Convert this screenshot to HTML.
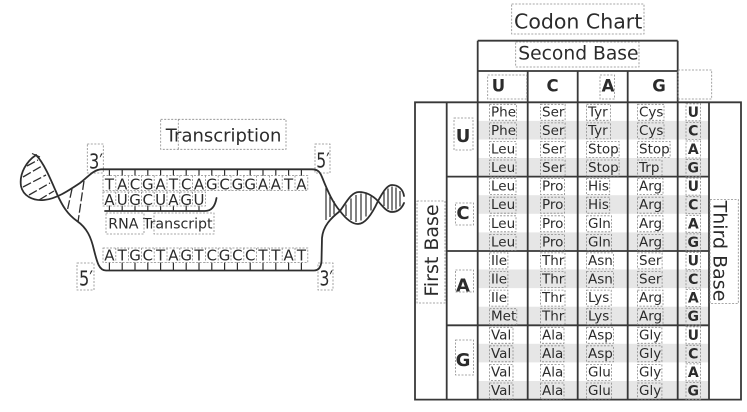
<!DOCTYPE html>
<html><head><meta charset="utf-8">
<style>
html,body{margin:0;padding:0;background:#fff;}
body{width:747px;height:412px;overflow:hidden;position:relative;}
svg{position:absolute;left:0;top:0;}
text{font-family:"DejaVu Sans","Liberation Sans",sans-serif;fill:#2b2b2b;}
.b{stroke:#8a8a8a;stroke-width:0.8;stroke-dasharray:2 1.5;fill:none;}
.l{stroke:#383838;stroke-width:1.8;fill:none;}
.s{stroke:#2e2e2e;stroke-width:1.8;fill:none;stroke-linecap:round;}
.r{stroke:#2e2e2e;stroke-width:1.3;fill:none;stroke-dasharray:9 2.5;}
.rr{stroke:#2e2e2e;stroke-width:1.2;fill:none;}
.t{stroke:#2e2e2e;stroke-width:1.2;fill:none;}
.bd{font-weight:bold;fill:#1e1e1e;}
</style></head>
<body>
<svg width="747" height="412" viewBox="0 0 747 412" xmlns="http://www.w3.org/2000/svg">
<!-- ===== Codon chart ===== -->
<g fill="#e6e6e6">
<rect x="477.7" y="120.9" width="231.3" height="18.6"/>
<rect x="477.7" y="158.0" width="231.3" height="18.6"/>
<rect x="477.7" y="195.2" width="231.3" height="18.6"/>
<rect x="477.7" y="232.4" width="231.3" height="18.6"/>
<rect x="477.7" y="269.5" width="231.3" height="18.6"/>
<rect x="477.7" y="306.7" width="231.3" height="18.6"/>
<rect x="477.7" y="343.8" width="231.3" height="18.6"/>
<rect x="477.7" y="381.0" width="231.3" height="18.6"/>
</g>
<path class="l" d="M477.7,40.7 H677.7 M477.7,71 H677.7 M477.7,40.7 V399.6 M677.7,40.7 V399.6 M527.7,71 V399.6 M577.7,71 V399.6 M627.7,71 V399.6 M415,102.3 H741 V399.6 H415 Z M446.7,102.3 V399.6 M709,102.3 V399.6 M446.7,176.6 H709 M446.7,251 H709 M446.7,325.3 H709"/>

<text x="514" y="28.5" font-size="20.5">Codon Chart</text>
<rect class="b" x="511.7" y="4" width="132.3" height="30"/>
<text x="518.3" y="59.5" font-size="18.7">Second Base</text>
<rect class="b" x="515.7" y="42" width="123.3" height="25"/>

<g class="bd" font-size="16.5" text-anchor="middle">
<text x="498.5" y="91.7">U</text>
<text x="552.5" y="91.7">C</text>
<text x="608" y="91.7">A</text>
<text x="659" y="91.7">G</text>
</g>
<rect class="b" x="487.7" y="75" width="39" height="24"/>
<rect class="b" x="600" y="75" width="14.5" height="24"/>
<rect class="b" x="678" y="70" width="33.7" height="29"/>

<!-- first base letters -->
<g class="bd" font-size="18" text-anchor="middle">
<text x="463" y="142">U</text>
<text x="463" y="219">C</text>
<text x="463" y="291.5">A</text>
<text x="463" y="366">G</text>
</g>
<rect class="b" x="454" y="118" width="19" height="32"/>
<rect class="b" x="455.5" y="203" width="18" height="22"/>
<rect class="b" x="455.5" y="270" width="18" height="22"/>
<rect class="b" x="455.5" y="340" width="18" height="35"/>

<!-- First / Third base labels -->
<text transform="translate(431,250.5) rotate(-90)" x="0" y="7" font-size="19" text-anchor="middle">First Base</text>
<rect class="b" x="417" y="201" width="28" height="102"/>
<text transform="translate(720.5,251) rotate(90)" x="0" y="7" font-size="19" text-anchor="middle">Third Base</text>
<rect class="b" x="710" y="199.5" width="28.3" height="104"/>

<!-- amino acids -->
<g font-size="13.5">
<text y="116.3"><tspan x="491">Phe</tspan><tspan x="542">Ser</tspan><tspan x="588">Tyr</tspan><tspan x="639">Cys</tspan></text>
<text y="134.9"><tspan x="491">Phe</tspan><tspan x="542">Ser</tspan><tspan x="588">Tyr</tspan><tspan x="639">Cys</tspan></text>
<text y="153.5"><tspan x="491">Leu</tspan><tspan x="542">Ser</tspan><tspan x="588">Stop</tspan><tspan x="639">Stop</tspan></text>
<text y="172.0"><tspan x="491">Leu</tspan><tspan x="542">Ser</tspan><tspan x="588">Stop</tspan><tspan x="639">Trp</tspan></text>
<text y="190.6"><tspan x="491">Leu</tspan><tspan x="542">Pro</tspan><tspan x="588">His</tspan><tspan x="639">Arg</tspan></text>
<text y="209.2"><tspan x="491">Leu</tspan><tspan x="542">Pro</tspan><tspan x="588">His</tspan><tspan x="639">Arg</tspan></text>
<text y="227.8"><tspan x="491">Leu</tspan><tspan x="542">Pro</tspan><tspan x="588">Gln</tspan><tspan x="639">Arg</tspan></text>
<text y="246.4"><tspan x="491">Leu</tspan><tspan x="542">Pro</tspan><tspan x="588">Gln</tspan><tspan x="639">Arg</tspan></text>
<text y="264.9"><tspan x="491">Ile</tspan><tspan x="542">Thr</tspan><tspan x="588">Asn</tspan><tspan x="639">Ser</tspan></text>
<text y="283.5"><tspan x="491">Ile</tspan><tspan x="542">Thr</tspan><tspan x="588">Asn</tspan><tspan x="639">Ser</tspan></text>
<text y="302.1"><tspan x="491">Ile</tspan><tspan x="542">Thr</tspan><tspan x="588">Lys</tspan><tspan x="639">Arg</tspan></text>
<text y="320.7"><tspan x="491">Met</tspan><tspan x="542">Thr</tspan><tspan x="588">Lys</tspan><tspan x="639">Arg</tspan></text>
<text y="339.3"><tspan x="491">Val</tspan><tspan x="542">Ala</tspan><tspan x="588">Asp</tspan><tspan x="639">Gly</tspan></text>
<text y="357.8"><tspan x="491">Val</tspan><tspan x="542">Ala</tspan><tspan x="588">Asp</tspan><tspan x="639">Gly</tspan></text>
<text y="376.4"><tspan x="491">Val</tspan><tspan x="542">Ala</tspan><tspan x="588">Glu</tspan><tspan x="639">Gly</tspan></text>
<text y="395.0"><tspan x="491">Val</tspan><tspan x="542">Ala</tspan><tspan x="588">Glu</tspan><tspan x="639">Gly</tspan></text>
</g>
<path class="b" d="
M489.5,104.3h27.1v16h-27.1z M540.5,104.3h24.6v16h-24.6z M586.5,104.3h24v16h-24z M637.5,104.3h26.5v16h-26.5z
M489.5,122.9h27.1v16h-27.1z M540.5,122.9h24.6v16h-24.6z M586.5,122.9h24v16h-24z M637.5,122.9h26.5v16h-26.5z
M489.5,141.5h26.5v16h-26.5z M540.5,141.5h24.6v16h-24.6z M586.5,141.5h32.6v16h-32.6z M637.5,141.5h32.6v16h-32.6z
M489.5,160h26.5v16h-26.5z M540.5,160h24.6v16h-24.6z M586.5,160h32.6v16h-32.6z M637.5,160h24.5v16h-24.5z
M489.5,178.6h26.5v16h-26.5z M540.5,178.6h24.1v16h-24.1z M586.5,178.6h23.2v16h-23.2z M637.5,178.6h25.5v16h-25.5z
M489.5,197.2h26.5v16h-26.5z M540.5,197.2h24.1v16h-24.1z M586.5,197.2h23.2v16h-23.2z M637.5,197.2h25.5v16h-25.5z
M489.5,215.8h26.5v16h-26.5z M540.5,215.8h24.1v16h-24.1z M586.5,215.8h24.9v16h-24.9z M637.5,215.8h25.5v16h-25.5z
M489.5,234.4h26.5v16h-26.5z M540.5,234.4h24.1v16h-24.1z M586.5,234.4h24.9v16h-24.9z M637.5,234.4h25.5v16h-25.5z
M489.5,252.9h18.4v16h-18.4z M540.5,252.9h24.5v16h-24.5z M586.5,252.9h26.9v16h-26.9z M637.5,252.9h24.6v16h-24.6z
M489.5,271.5h18.4v16h-18.4z M540.5,271.5h24.5v16h-24.5z M586.5,271.5h26.9v16h-26.9z M637.5,271.5h24.6v16h-24.6z
M489.5,290.1h18.4v16h-18.4z M540.5,290.1h24.5v16h-24.5z M586.5,290.1h24.7v16h-24.7z M637.5,290.1h25.5v16h-25.5z
M489.5,308.7h27.3v16h-27.3z M540.5,308.7h24.5v16h-24.5z M586.5,308.7h24.7v16h-24.7z M637.5,308.7h25.5v16h-25.5z
M489.5,327.3h23.5v16h-23.5z M540.5,327.3h23.5v16h-23.5z M586.5,327.3h26.9v16h-26.9z M637.5,327.3h24.4v16h-24.4z
M489.5,345.8h23.5v16h-23.5z M540.5,345.8h23.5v16h-23.5z M586.5,345.8h26.9v16h-26.9z M637.5,345.8h24.4v16h-24.4z
M489.5,364.4h23.5v16h-23.5z M540.5,364.4h23.5v16h-23.5z M586.5,364.4h24.9v16h-24.9z M637.5,364.4h24.4v16h-24.4z
M489.5,383h23.5v16h-23.5z M540.5,383h23.5v16h-23.5z M586.5,383h24.9v16h-24.9z M637.5,383h24.4v16h-24.4z"/>

<!-- third base letters -->
<g class="bd" font-size="14" text-anchor="middle">
<text x="693.3" y="116.8">U</text><text x="693.3" y="135.4">C</text><text x="693.3" y="154">A</text><text x="693.3" y="172.5">G</text>
<text x="693.3" y="191.1">U</text><text x="693.3" y="209.7">C</text><text x="693.3" y="228.3">A</text><text x="693.3" y="246.9">G</text>
<text x="693.3" y="265.4">U</text><text x="693.3" y="284">C</text><text x="693.3" y="302.6">A</text><text x="693.3" y="321.2">G</text>
<text x="693.3" y="339.8">U</text><text x="693.3" y="358.3">C</text><text x="693.3" y="376.9">A</text><text x="693.3" y="395.5">G</text>
</g>
<path class="b" d="M686,103.8h14.6v17h-14.6z M686,122.4h14.6v17h-14.6z M686,141h14.6v17h-14.6z M686,159.5h14.6v17h-14.6z
M686,178.1h14.6v17h-14.6z M686,196.7h14.6v17h-14.6z M686,215.3h14.6v17h-14.6z M686,233.9h14.6v17h-14.6z
M686,252.4h14.6v17h-14.6z M686,271h14.6v17h-14.6z M686,289.6h14.6v17h-14.6z M686,308.2h14.6v17h-14.6z
M686,326.8h14.6v17h-14.6z M686,345.3h14.6v17h-14.6z M686,363.9h14.6v17h-14.6z M686,382.5h14.6v17h-14.6z"/>

<!-- ===== Transcription diagram ===== -->
<text x="165.7" y="141.5" font-size="18">Transcription</text>
<rect class="b" x="160.7" y="119.3" width="125.3" height="30"/>
<path class="b" d="M178.3,119.3 V149.3"/>

<text x="89" y="168.5" font-size="20.5" textLength="14" lengthAdjust="spacingAndGlyphs">3′</text>
<rect class="b" x="87.3" y="144" width="16" height="29"/>
<text x="316.3" y="167.5" font-size="20.5" textLength="13.5" lengthAdjust="spacingAndGlyphs">5′</text>
<rect class="b" x="315" y="144" width="15" height="29"/>
<text x="79" y="285.5" font-size="20.5" textLength="14" lengthAdjust="spacingAndGlyphs">5′</text>
<rect class="b" x="77" y="263" width="17" height="27"/>
<text x="319.5" y="285.5" font-size="20.5" textLength="13.5" lengthAdjust="spacingAndGlyphs">3′</text>
<rect class="b" x="318" y="263" width="15" height="27"/>

<!-- strands -->
<path class="s" d="M36,155 C27,161 19,173 21,186 C23,196 33,201 44,200 C56,199 68,191 80,183 C88,177 93,170 101,169.3 L312,169.3 C318,169.3 320,172 322,177 C328,192 333,203 340,211 C346,219 352,224 358,224 C366,224 373,212 378,201 C383,192 387,185 392,185 C398,185 403,189 404,196"/>
<path class="s" d="M36,155 C44,163 51,180 57,194 C62,205 67,214 77,221 C87,228 91,237 94,250 C97,262 99,270.5 106,270.5 L314,270.5 C319,270.5 321,267 321.5,261 L322,238 C323,226 331,218 340,211 C346,203 351,192 359,192 C367,192 373,196 378,201 C383,207 387,212 392,212 C398,212 402,208 404,203"/>
<path class="t" d="M32,153.5 L40,157"/>
<!-- left rungs -->
<path class="r" d="M27,166 L38,160 M23,177 L42,166 M23,187 L46,175 M29,195 L50,183 M39,200 L54,191 M84,181 L78,222 M72,189 L67,212"/>
<!-- right rungs -->
<path class="rr" d="M326,188 V220 M330,195 V217 M334,201 V214.5
M346,204.5 V216 M351,198.5 V220 M356,195 V222 M361,193.5 V220.5 M366,194 V216.5 M371,196.5 V210.5
M384,192 V206 M388,188.5 V209 M392,186.5 V210.5 M396,187.5 V209.5 M400,191 V206.5"/>

<!-- ticks -->
<path class="t" d="M109.4,169.3v6.5 M122.2,169.3v6.5 M135,169.3v6.5 M147.8,169.3v6.5 M160.6,169.3v6.5 M173.4,169.3v6.5 M186.2,169.3v6.5 M199,169.3v6.5 M211.8,169.3v6.5 M224.6,169.3v6.5 M237.4,169.3v6.5 M250.2,169.3v6.5 M263,169.3v6.5 M275.8,169.3v6.5 M288.6,169.3v6.5 M301.4,169.3v6.5
M109.4,205.5v5.5 M122.2,205.5v5.5 M135,205.5v5.5 M147.8,205.5v5.5 M160.6,205.5v5.5 M173.4,205.5v5.5 M186.2,205.5v5.5 M199,205.5v5.5
M109.4,262.5v8 M122.2,262.5v8 M135,262.5v8 M147.8,262.5v8 M160.6,262.5v8 M173.4,262.5v8 M186.2,262.5v8 M199,262.5v8 M211.8,262.5v8 M224.6,262.5v8 M237.4,262.5v8 M250.2,262.5v8 M263,262.5v8 M275.8,262.5v8 M288.6,262.5v8 M301.4,262.5v8"/>
<!-- RNA strand -->
<path class="s" d="M105,211 L205,211 C211,211 215,207 216.5,198"/>

<!-- sequences -->
<g font-size="15" text-anchor="middle">
<text x="109.4 122.2 135 147.8 160.6 173.4 186.2 199 211.8 224.6 237.4 250.2 263 275.8 288.6 301.4" y="189.3">TACGATCAGCGGAATA</text>
<text x="109.4 122.2 135 147.8 160.6 173.4 186.2 199" y="205">AUGCUAGU</text>
<text x="109.4 122.2 135 147.8 160.6 173.4 186.2 199 211.8 224.6 237.4 250.2 263 275.8 288.6 301.4" y="260.5">ATGCTAGTCGCCTTAT</text>
</g>
<path class="b" d="M103,175.5h204.8v15h-204.8z M115.8,175.5v15 M128.6,175.5v15 M141.4,175.5v15 M154.2,175.5v15 M167,175.5v15 M179.8,175.5v15 M192.6,175.5v15 M205.4,175.5v15 M218.2,175.5v15 M231,175.5v15 M243.8,175.5v15 M256.6,175.5v15 M269.4,175.5v15 M282.2,175.5v15 M295,175.5v15
M103,192h102.4v14h-102.4z M115.8,192v14 M128.6,192v14 M141.4,192v14 M154.2,192v14 M167,192v14 M179.8,192v14 M192.6,192v14
M103,248h204.8v14.5h-204.8z M115.8,248v14.5 M128.6,248v14.5 M141.4,248v14.5 M154.2,248v14.5 M167,248v14.5 M179.8,248v14.5 M192.6,248v14.5 M205.4,248v14.5 M218.2,248v14.5 M231,248v14.5 M243.8,248v14.5 M256.6,248v14.5 M269.4,248v14.5 M282.2,248v14.5 M295,248v14.5"/>

<text x="108.3" y="228.5" font-size="14.2">RNA Transcript</text>
<rect class="b" x="106" y="213" width="38" height="21"/>
<rect class="b" x="154" y="213" width="60" height="21"/>
</svg>
</body></html>
